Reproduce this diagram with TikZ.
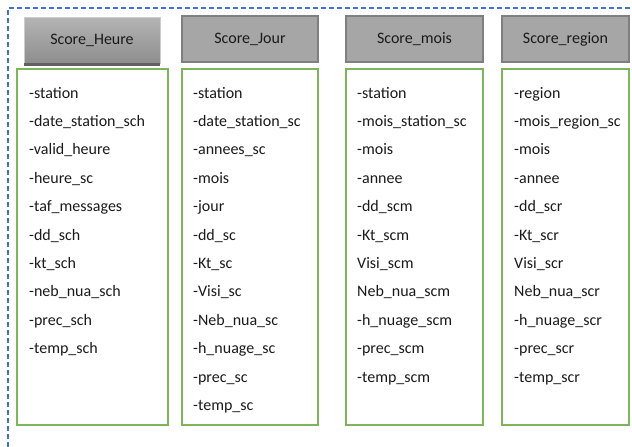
\documentclass[tikz,border=0pt]{standalone}
\usepackage{fontspec}
\setmainfont{Carlito}
\definecolor{dashblue}{HTML}{4472C4}
\definecolor{boxgreen}{HTML}{7DB65A}
\definecolor{hdrfill}{HTML}{A6A6A6}
\definecolor{hdrline}{HTML}{7F7F7F}
\definecolor{gradtop}{HTML}{B4B4B4}
\definecolor{gradbot}{HTML}{8E8E8E}
\definecolor{txt}{HTML}{1A1A1A}
\begin{document}
\begin{tikzpicture}[x=1pt,y=-1pt,
  hdr/.style={draw=hdrline,line width=1.2pt,fill=hdrfill,minimum height=46pt,inner sep=0pt,
    font=\fontsize{16}{19}\selectfont,text=txt},
  hdrgrad/.style={draw=gray!40,line width=0.6pt,top color=gradtop,bottom color=gradbot,minimum height=46pt,inner sep=0pt,
    font=\fontsize{16}{19}\selectfont,text=txt},
  listbox/.style={draw=boxgreen,line width=1.4pt,inner sep=0pt},
  item/.style={anchor=base west,inner sep=0pt,font=\fontsize{16}{19}\selectfont,text=txt},
  frame/.style={draw=dashblue,line width=1.2pt,dash pattern=on 5pt off 3pt}]
\useasboundingbox (0,0) rectangle (632,447);
% dashed frame
\coordinate (fa) at (8,447);
\coordinate (fb) at (8,8);
\coordinate (fc) at (632,8);
\draw[frame] (fa) -- (fb) -- (fc);
% headers
\node[hdrgrad,minimum width=136pt] (h1) at (92,40) {Score\_Heure};
\draw[draw=black!62,line width=2.5pt] ([yshift=-1.2pt]h1.south west) -- ([yshift=-1.2pt]h1.south east);
\node[hdr,minimum width=136pt] (h2) at (250,39) {Score\_Jour};
\node[hdr,minimum width=137pt] (h3) at (414.5,39) {Score\_mois};
\node[hdr,minimum width=127pt] (h4) at (565.5,39) {Score\_region};
% list boxes
\node[listbox,minimum width=151pt,minimum height=356pt] (b1) at (92.5,247) {};
\node[listbox,minimum width=136pt,minimum height=356pt] (b2) at (250,247) {};
\node[listbox,minimum width=137pt,minimum height=356pt] (b3) at (414.5,247) {};
\node[listbox,minimum width=127pt,minimum height=356pt] (b4) at (565.5,247) {};
% items
\foreach \t [count=\i] in {-station,-date\_station\_sch,-valid\_heure,-heure\_sc,-taf\_messages,-dd\_sch,-kt\_sch,-neb\_nua\_sch,-prec\_sch,-temp\_sch}
  \node[item] (a\i) at (29,{98+28.4*(\i-1)}) {\t};
\foreach \t [count=\i] in {-station,-date\_station\_sc,-annees\_sc,-mois,-jour,-dd\_sc,-Kt\_sc,-Visi\_sc,-Neb\_nua\_sc,-h\_nuage\_sc,-prec\_sc,-temp\_sc}
  \node[item] (c\i) at (193,{98+28.4*(\i-1)}) {\t};
\foreach \t [count=\i] in {-station,-mois\_station\_sc,-mois,-annee,-dd\_scm,-Kt\_scm,Visi\_scm,Neb\_nua\_scm,-h\_nuage\_scm,-prec\_scm,-temp\_scm}
  \node[item] (d\i) at (357,{98+28.4*(\i-1)}) {\t};
\foreach \t [count=\i] in {-region,-mois\_region\_sc,-mois,-annee,-dd\_scr,-Kt\_scr,Visi\_scr,Neb\_nua\_scr,-h\_nuage\_scr,-prec\_scr,-temp\_scr}
  \node[item] (e\i) at (514,{98+28.4*(\i-1)}) {\t};
\end{tikzpicture}
\end{document}
